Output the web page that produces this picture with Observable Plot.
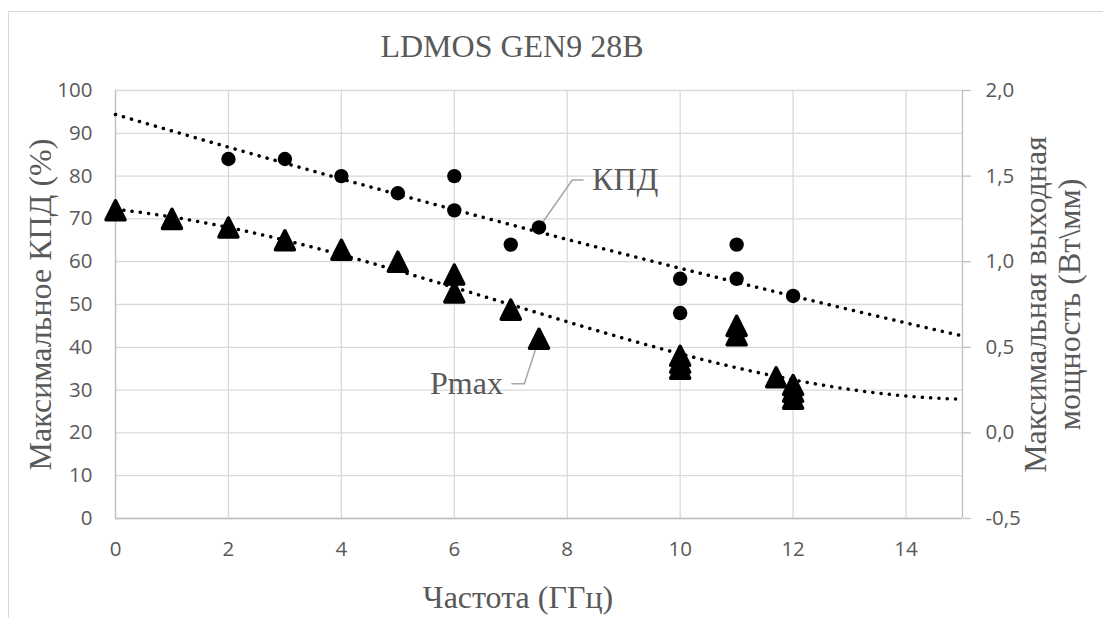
<!DOCTYPE html>
<html>
<head>
<meta charset="utf-8">
<script src="https://cdn.jsdelivr.net/npm/d3@7"></script>
<script src="https://cdn.jsdelivr.net/npm/@observablehq/plot@0.6"></script>
<style>
  html, body { margin: 0; padding: 0; background: #fff; overflow: hidden; }
  #wrap { position: relative; width: 1103px; height: 618px; overflow: hidden; }
  #border { position: absolute; left: 8px; top: 11px; width: 1300px; height: 800px; border: 1.5px solid #d9d9d9; box-sizing: border-box; }
  #chart { position: absolute; left: 0; top: 0; }
</style>
</head>
<body>
<div id="wrap"><div id="border"></div><div id="chart"></div></div>
<script>
// ---- data ----
const title = "LDMOS GEN9 28B";
const xTitle = "Частота (ГГц)";
const yLeftTitle = "Максимальное КПД (%)";
const yRightTitle = "Максимальная выходная\nмощность (Вт\\мм)";
const labelKPD = "КПД";
const labelPmax = "Pmax";

// efficiency (left axis, %)
const freqKPD = [2, 3, 4, 5, 6, 6, 7, 7.5, 10, 10, 11, 11, 12];
const kpd     = [84, 84, 80, 76, 80, 72, 64, 68, 56, 48, 64, 56, 52];

// max output power (right axis, W/mm)
const freqP = [0, 1, 2, 3, 4, 5, 6, 6, 7, 7.5, 10, 10, 10, 11, 11, 11.7, 12, 12, 12];
const pmax  = [1.3, 1.25, 1.2, 1.125, 1.07, 1.0, 0.925, 0.82, 0.72, 0.55, 0.45, 0.41, 0.375, 0.625, 0.57, 0.325, 0.28, 0.24, 0.2];

const xTicks = [0, 2, 4, 6, 8, 10, 12, 14];
const yLeftTicks = [0, 10, 20, 30, 40, 50, 60, 70, 80, 90, 100];
const yRightTicks = [-0.5, 0.0, 0.5, 1.0, 1.5, 2.0];

// right axis mapping: [-0.5, 2.0] <-> [0, 100]
const rMin = -0.5, rMax = 2.0;
const toLeft = p => (p - rMin) / (rMax - rMin) * 100;

// polynomial least squares trendline (like Excel)
function polyfit(xs, ys, deg) {
  const n = deg + 1;
  const A = Array.from({length: n}, () => new Array(n + 1).fill(0));
  for (let k = 0; k < xs.length; k++) {
    for (let i = 0; i < n; i++) {
      for (let j = 0; j < n; j++) A[i][j] += Math.pow(xs[k], i + j);
      A[i][n] += ys[k] * Math.pow(xs[k], i);
    }
  }
  for (let c = 0; c < n; c++) {
    let p = c;
    for (let r = c + 1; r < n; r++) if (Math.abs(A[r][c]) > Math.abs(A[p][c])) p = r;
    [A[c], A[p]] = [A[p], A[c]];
    for (let r = 0; r < n; r++) {
      if (r === c) continue;
      const f = A[r][c] / A[c][c];
      for (let j = c; j <= n; j++) A[r][j] -= f * A[c][j];
    }
  }
  const coef = A.map((row, i) => row[n] / row[i]);
  return x => coef.reduce((s, a, i) => s + a * Math.pow(x, i), 0);
}

const fKPD = polyfit(freqKPD, kpd, 2);
const fP = polyfit(freqP, pmax, 3);
const xs = d3.range(0, 15.0001, 0.05);
const trendKPD = xs.map(x => ({x, y: fKPD(x)}));
const trendP = xs.map(x => ({x, y: toLeft(fP(x))}));

const kpdData = freqKPD.map((x, i) => ({x, y: kpd[i]}));
const pData = freqP.map((x, i) => ({x, y: toLeft(pmax[i])}));

// rounded triangle symbol (bbox-centered)
const tri = {
  draw(ctx, size) {
    const h = Math.sqrt(size / Math.PI);
    ctx.moveTo(0, -h);
    ctx.lineTo(h, h);
    ctx.lineTo(-h, h);
    ctx.closePath();
  }
};

const fmt = v => v.toFixed(1).replace(".", ",");
const serif = "'Liberation Serif', 'Times New Roman', serif";
const sans = "'Open Sans', 'Noto Sans', sans-serif";
const gray = "#595959";
const tickFont = 20.5;
const serifSize = 32;

// annotation leader anchors (data units) — derived from the labelled points
const kPt = kpdData[7];   // (7.5, 68)
const pPt = pData[9];     // (7.5, Pmax)
const leaderKPD = [kPt, {x: 8.09, y: 79.1}, {x: 8.28, y: 79.1}];
const leaderP = [pPt, {x: 7.24, y: 31.5}, {x: 7.02, y: 31.5}];

const chart = Plot.plot({
  width: 1103,
  height: 618,
  marginLeft: 115,
  marginRight: 141,
  marginTop: 90,
  marginBottom: 100,
  x: {domain: [0, 15]},
  y: {domain: [0, 100]},
  style: {background: "transparent", color: gray, overflow: "visible"},
  marks: [
    Plot.gridY(yLeftTicks, {stroke: "#d9d9d9", strokeOpacity: 1, strokeWidth: 1.3}),
    Plot.gridX(xTicks, {stroke: "#d9d9d9", strokeOpacity: 1, strokeWidth: 1.3}),
    Plot.ruleX([0, 15], {stroke: "#bfbfbf", strokeWidth: 1.3}),
    Plot.ruleY([0], {stroke: "#bfbfbf", strokeWidth: 1.3}),
    Plot.axisY(yLeftTicks, {anchor: "left", tickSize: 0, tickPadding: 23, fontSize: tickFont, fontFamily: sans, fill: gray, label: null}),
    Plot.axisY(yRightTicks.map(toLeft), {anchor: "right", tickSize: 8, tickPadding: 15, stroke: "#bfbfbf", strokeWidth: 1.3,
      tickFormat: d => fmt(d / 100 * (rMax - rMin) + rMin), fontSize: tickFont, fontFamily: sans, fill: gray, label: null}),
    Plot.axisX(xTicks, {anchor: "bottom", tickSize: 0, tickPadding: 23, fontSize: tickFont, fontFamily: sans, fill: gray, label: null}),
    // trendlines
    Plot.line(trendKPD, {x: "x", y: "y", stroke: "black", strokeWidth: 3.5, strokeDasharray: "0.1 8.2", strokeLinecap: "round"}),
    Plot.line(trendP, {x: "x", y: "y", stroke: "black", strokeWidth: 3.5, strokeDasharray: "0.1 8.2", strokeLinecap: "round"}),
    // leaders
    Plot.line(leaderKPD, {x: "x", y: "y", stroke: "#a6a6a6", strokeWidth: 1.5}),
    Plot.line(leaderP, {x: "x", y: "y", stroke: "#a6a6a6", strokeWidth: 1.5}),
    // markers
    Plot.dot(kpdData, {x: "x", y: "y", r: 7.2, fill: "black", stroke: "none"}),
    Plot.dot(pData, {x: "x", y: "y", r: 9.5, symbol: tri, fill: "black", stroke: "black", strokeWidth: 3.5, strokeLinejoin: "round"}),
    // data labels
    Plot.text([labelKPD], {x: 8.28, y: 79.1, dx: 9, textAnchor: "start", lineAnchor: "middle", fontFamily: serif, fontSize: serifSize, fill: gray}),
    Plot.text([labelPmax], {x: 7.02, y: 31.5, dx: -9, textAnchor: "end", lineAnchor: "middle", fontFamily: serif, fontSize: serifSize, fill: gray}),
    // titles
    Plot.text([title], {frameAnchor: "top", dx: -27, dy: -44, textAnchor: "middle", lineAnchor: "middle", fontFamily: serif, fontSize: serifSize, fill: gray}),
    Plot.text([xTitle], {frameAnchor: "bottom", dx: -21, dy: 79, textAnchor: "middle", lineAnchor: "middle", fontFamily: serif, fontSize: serifSize, fill: gray}),
    Plot.text([yLeftTitle], {frameAnchor: "left", dx: -75, rotate: -90, textAnchor: "middle", lineAnchor: "middle", fontFamily: serif, fontSize: serifSize, fill: gray}),
    Plot.text([yRightTitle], {frameAnchor: "right", dx: 90, rotate: -90, textAnchor: "middle", lineAnchor: "middle", lineHeight: 1.06, fontFamily: serif, fontSize: serifSize, fill: gray})
  ]
});
document.getElementById("chart").appendChild(chart);
</script>
</body>
</html>
